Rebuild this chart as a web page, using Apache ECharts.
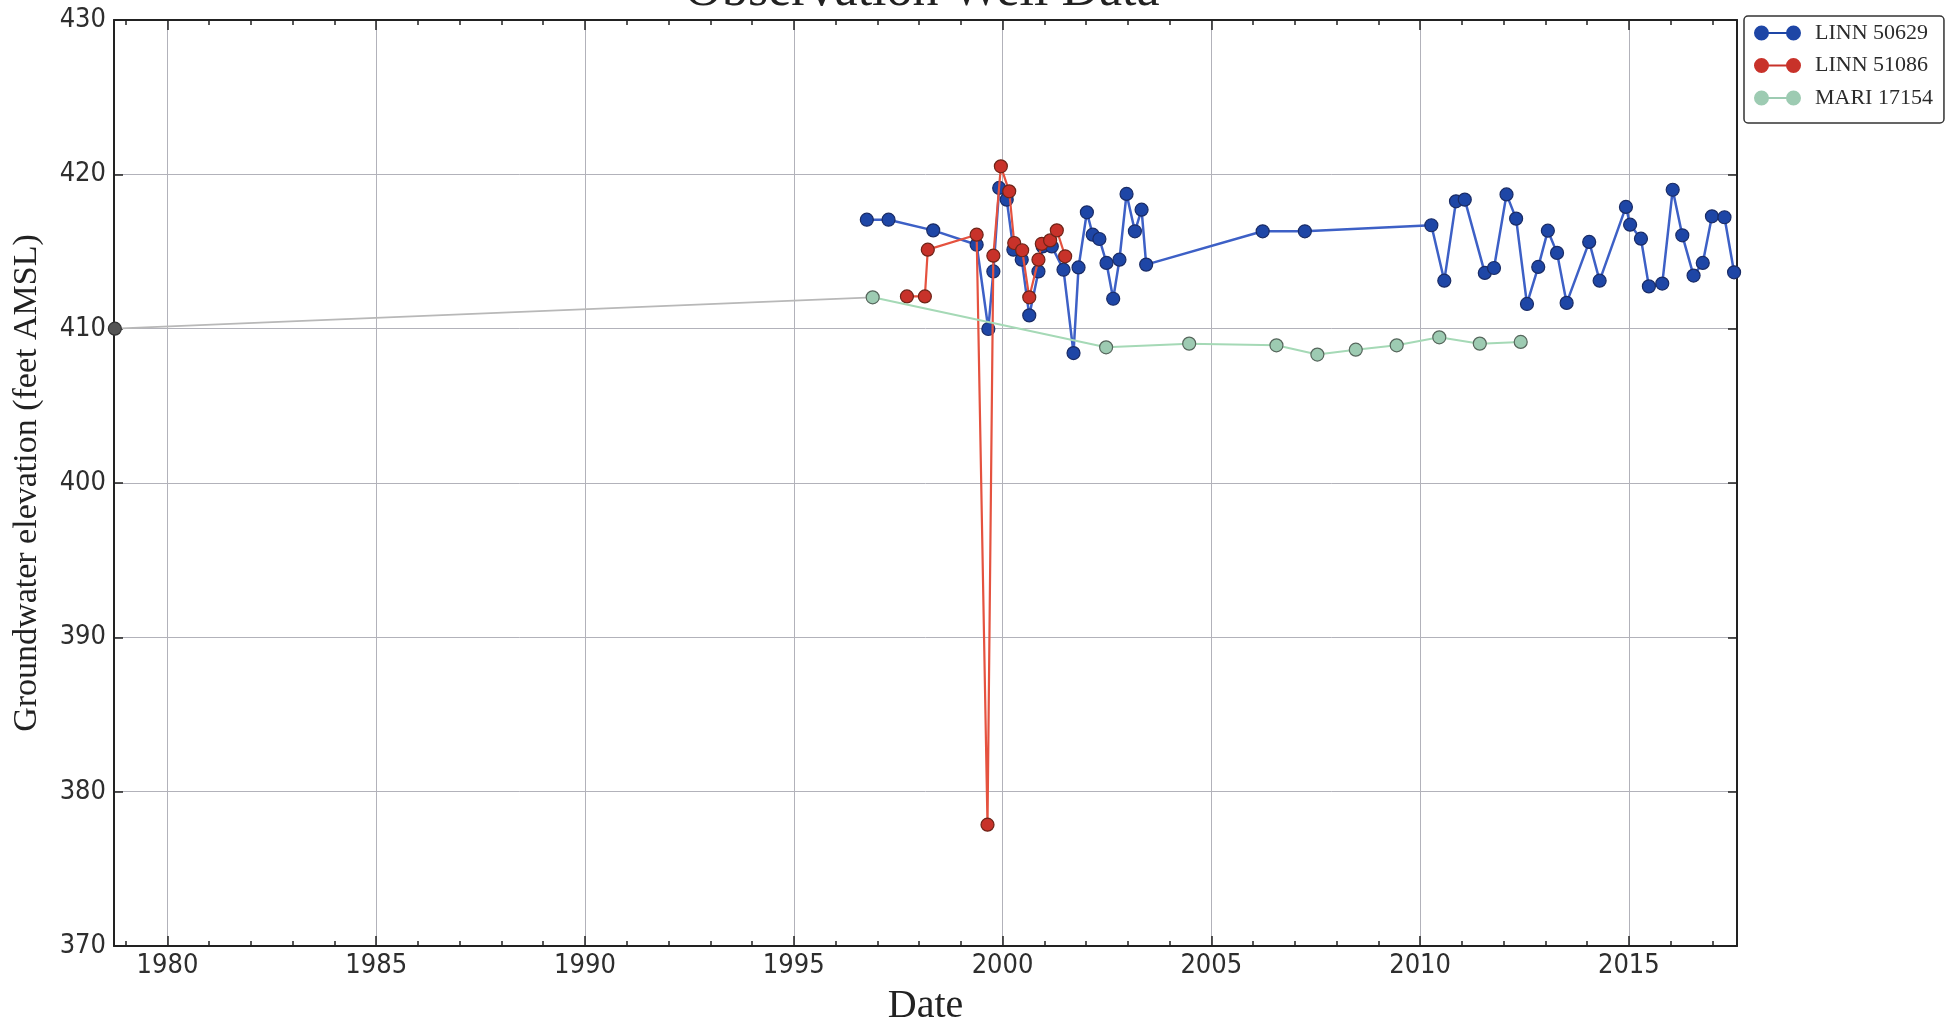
<!DOCTYPE html>
<html>
<head>
<meta charset="utf-8">
<script src="https://cdn.jsdelivr.net/npm/echarts@6/dist/echarts.min.js"></script>
<style>
html,body{margin:0;padding:0;background:#fff;}
#chart{width:1950px;height:1029px;}
</style>
</head>
<body>
<div id="chart"></div>
<script>
// ---- axis ranges & tick labels ----
const X_MIN = 1978.72;
const X_MAX = 2017.59;
const Y_MIN = 370;
const Y_MAX = 430;
const Y_STEP = 10;
const xMajorTicks = [1980, 1985, 1990, 1995, 2000, 2005, 2010, 2015];
const xMinorTicks = [1979, 1980, 1981, 1982, 1983, 1984, 1985, 1986, 1987, 1988, 1989,
  1990, 1991, 1992, 1993, 1994, 1995, 1996, 1997, 1998, 1999, 2000, 2001, 2002, 2003,
  2004, 2005, 2006, 2007, 2008, 2009, 2010, 2011, 2012, 2013, 2014, 2015, 2016, 2017];

// ---- series names ----
const seriesNames = ['LINN 50629', 'LINN 51086', 'MARI 17154'];

// ---- data: [decimal year, elevation ft AMSL] ----
const linn50629 = [
  [1996.75, 417.06], [1997.27, 417.06], [1998.34, 416.37], [1999.38, 415.44],
  [1999.66, 409.98], [1999.78, 413.71], [1999.92, 419.12], [2000.10, 418.36],
  [2000.26, 415.12], [2000.46, 414.47], [2000.64, 410.86], [2000.86, 413.71],
  [2000.96, 415.33], [2001.18, 415.33], [2001.46, 413.82], [2001.70, 408.42],
  [2001.82, 413.97], [2002.02, 417.54], [2002.16, 416.09], [2002.32, 415.81],
  [2002.49, 414.26], [2002.65, 411.94], [2002.80, 414.47], [2002.97, 418.73],
  [2003.17, 416.31], [2003.33, 417.71], [2003.44, 414.15], [2006.23, 416.31],
  [2007.24, 416.31], [2010.27, 416.70], [2010.58, 413.11], [2010.86, 418.25],
  [2011.07, 418.36], [2011.55, 413.61], [2011.77, 413.93], [2012.07, 418.70],
  [2012.30, 417.13], [2012.56, 411.60], [2012.83, 414.00], [2013.06, 416.35],
  [2013.28, 414.91], [2013.51, 411.67], [2014.05, 415.62], [2014.30, 413.11],
  [2014.93, 417.89], [2015.03, 416.74], [2015.29, 415.83], [2015.48, 412.74],
  [2015.80, 412.92], [2016.05, 419.00], [2016.28, 416.05], [2016.55, 413.44],
  [2016.77, 414.26], [2016.99, 417.28], [2017.29, 417.22], [2017.52, 413.65]
];
const linn51086 = [
  [1997.71, 412.09], [1998.14, 412.09], [1998.21, 415.12], [1999.38, 416.09],
  [1999.64, 377.86], [1999.78, 414.73], [1999.96, 420.52], [2000.16, 418.90],
  [2000.28, 415.55], [2000.47, 415.08], [2000.64, 412.03], [2000.86, 414.47],
  [2000.94, 415.50], [2001.14, 415.72], [2001.30, 416.37], [2001.50, 414.69]
];
const mari17154 = [
  [1996.89, 412.03], [2002.48, 408.79], [2004.47, 409.03], [2006.56, 408.92],
  [2007.54, 408.32], [2008.46, 408.64], [2009.44, 408.92], [2010.46, 409.44],
  [2011.43, 409.03], [2012.41, 409.14]
];
// early record connected by a grey segment
const mariEarly = [[1978.74, 410.00], [1996.89, 412.03]];

// ---- styles ----
const SERIF = '"Liberation Serif", "Times New Roman", serif';
const SANS = '"DejaVu Sans Condensed", "DejaVu Sans", sans-serif';
const AXIS_COLOR = '#222';
const GRID_COLOR = '#b2b2ba';
const LEGEND_ICON = 'path://M0,7.5A7.5,7.5,0,1,1,15,7.5A7.5,7.5,0,1,1,0,7.5Z' +
  'M32,7.5A7.5,7.5,0,1,1,47,7.5A7.5,7.5,0,1,1,32,7.5Z' +
  'M7.5,6.4L39.5,6.4L39.5,8.6L7.5,8.6Z';

const chart = echarts.init(document.getElementById('chart'), null, {renderer: 'canvas'});

function xAxisDef(position, ticks, len, withLine, withLabels) {
  return {
    type: 'value', gridIndex: 0, position: position, min: X_MIN, max: X_MAX,
    axisLine: {show: withLine, onZero: false, lineStyle: {color: AXIS_COLOR, width: 2}},
    axisTick: {show: true, inside: true, length: len, customValues: ticks,
      lineStyle: {color: AXIS_COLOR, width: 1.5}},
    axisLabel: withLabels ? {
      show: true, customValues: ticks, margin: 6,
      fontFamily: SANS, fontSize: 27, color: '#2e2e2e',
      formatter: function (v) { return String(Math.round(v)); }
    } : {show: false},
    splitLine: {show: withLabels, lineStyle: {color: GRID_COLOR, width: 1}},
    splitArea: {show: false}
  };
}

const mainX = xAxisDef('bottom', xMajorTicks, 10, true, true);
mainX.name = 'Date';
mainX.nameLocation = 'middle';
mainX.nameGap = 40;
mainX.nameTextStyle = {fontFamily: SERIF, fontSize: 40, color: '#222'};

const option = {
  animation: false,
  backgroundColor: '#fff',
  grid: {left: 114, right: 213, top: 20, bottom: 83, containLabel: false,
    outerBoundsMode: 'none', show: false},
  graphic: [{
    type: 'text', x: 922, y: -9, z: 100,
    style: {text: 'Observation Well Data', font: '52px ' + SERIF, fill: '#222',
      align: 'center', textAlign: 'center', verticalAlign: 'middle', textVerticalAlign: 'middle'}
  }],
  legend: {
    data: seriesNames.map(function (n) { return {name: n, icon: LEGEND_ICON}; }),
    orient: 'vertical', left: 1744, top: 16,
    itemWidth: 47, itemHeight: 15, itemGap: 10.5,
    padding: [6, 11, 14, 10],
    backgroundColor: '#fff', borderColor: '#333', borderWidth: 1.5, borderRadius: 4,
    itemStyle: {borderWidth: 0},
    textStyle: {fontFamily: SERIF, fontSize: 22, color: '#2b2b2b', lineHeight: 22, padding: [0, 0, 0, 9]},
    selectedMode: false
  },
  xAxis: [
    mainX,
    xAxisDef('bottom', xMinorTicks, 5, false, false),
    xAxisDef('top', xMajorTicks, 10, true, false),
    xAxisDef('top', xMinorTicks, 5, false, false)
  ],
  yAxis: [{
    type: 'value', position: 'left', min: Y_MIN, max: Y_MAX, interval: Y_STEP,
    name: 'Groundwater elevation (feet AMSL)', nameLocation: 'middle', nameGap: 70, nameRotate: 90,
    nameTextStyle: {fontFamily: SERIF, fontSize: 34, color: '#222'},
    axisLine: {show: true, onZero: false, lineStyle: {color: AXIS_COLOR, width: 2}},
    axisTick: {show: true, inside: true, length: 9, lineStyle: {color: AXIS_COLOR, width: 1.5}},
    axisLabel: {show: true, margin: 8, fontFamily: SANS, fontSize: 27, color: '#2e2e2e'},
    splitLine: {show: true, lineStyle: {color: GRID_COLOR, width: 1}}
  }, {
    type: 'value', position: 'right', min: Y_MIN, max: Y_MAX, interval: Y_STEP,
    axisLine: {show: true, onZero: false, lineStyle: {color: AXIS_COLOR, width: 2}},
    axisTick: {show: true, inside: true, length: 9, lineStyle: {color: AXIS_COLOR, width: 1.5}},
    axisLabel: {show: false},
    splitLine: {show: false}
  }],
  series: [
    {
      name: 'MARI early', type: 'line', xAxisIndex: 0, yAxisIndex: 0, z: 2,
      data: mariEarly.map(function (p, i) { return {value: p, symbol: i === 0 ? 'circle' : 'none'}; }),
      symbol: 'circle', symbolSize: 13, showSymbol: true,
      lineStyle: {color: '#b8b8b8', width: 1.8},
      itemStyle: {color: '#555', borderColor: '#333', borderWidth: 1.2},
      emphasis: {disabled: true}
    },
    {
      name: seriesNames[0], type: 'line', xAxisIndex: 0, yAxisIndex: 0, z: 3,
      data: linn50629, symbol: 'circle', symbolSize: 13, showSymbol: true,
      lineStyle: {color: '#3d60c6', width: 2.5},
      itemStyle: {color: '#1e46a6', borderColor: '#1a2c66', borderWidth: 1.2},
      emphasis: {disabled: true}
    },
    {
      name: seriesNames[1], type: 'line', xAxisIndex: 0, yAxisIndex: 0, z: 4,
      data: linn51086, symbol: 'circle', symbolSize: 13, showSymbol: true,
      lineStyle: {color: '#e5523f', width: 2.2},
      itemStyle: {color: '#c8322a', borderColor: '#6e2418', borderWidth: 1.2},
      emphasis: {disabled: true}
    },
    {
      name: seriesNames[2], type: 'line', xAxisIndex: 0, yAxisIndex: 0, z: 5,
      data: mari17154, symbol: 'circle', symbolSize: 13, showSymbol: true,
      lineStyle: {color: '#a5d9b6', width: 2},
      itemStyle: {color: '#9dcbb2', borderColor: '#56665c', borderWidth: 1.2},
      emphasis: {disabled: true}
    }
  ]
};
chart.setOption(option);
</script>
</body>
</html>
